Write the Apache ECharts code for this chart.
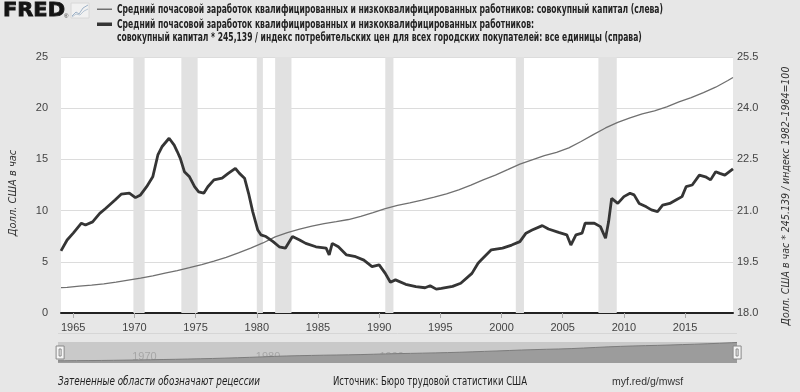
<!DOCTYPE html>
<html><head><meta charset="utf-8">
<script src="https://cdn.jsdelivr.net/npm/echarts@6/dist/echarts.min.js"></script>
<style>html,body{margin:0;padding:0;background:#e7e7e7;}#c{width:800px;height:392px;}</style>
</head><body><div id="c"></div>
<script>
// ---- data ----
const nominalDates = ['1964-01','1964-07','1965-07','1966-07','1967-07','1968-07','1969-07','1970-07','1971-07','1972-07','1973-07','1974-07','1975-07','1976-07','1977-07','1978-07','1979-07','1980-07','1981-07','1982-07','1983-07','1984-07','1985-07','1986-07','1987-07','1988-07','1989-07','1990-07','1991-07','1992-07','1993-07','1994-07','1995-07','1996-07','1997-07','1998-07','1999-07','2000-07','2001-07','2002-07','2003-07','2004-07','2005-07','2006-07','2007-07','2008-07','2009-07','2010-07','2011-07','2012-07','2013-07','2014-07','2015-07','2016-07','2017-07','2018-07','2018-12'];
const nominalValues = [2.47,2.50,2.63,2.73,2.85,3.02,3.22,3.40,3.63,3.90,4.14,4.43,4.73,5.06,5.44,5.87,6.33,6.84,7.43,7.86,8.19,8.48,8.73,8.92,9.13,9.43,9.80,10.19,10.50,10.76,11.03,11.32,11.64,12.03,12.49,13.00,13.47,14.00,14.54,14.96,15.36,15.68,16.12,16.75,17.42,18.07,18.61,19.05,19.44,19.74,20.13,20.61,21.03,21.53,22.05,22.70,23.00];

const realDates = ['1964-01','1964-07','1965-01','1965-09','1966-01','1966-08','1967-03','1967-09','1968-06','1968-12','1969-08','1970-02','1970-07','1971-01','1971-07','1971-12','1972-04','1972-11','1973-04','1973-07','1973-10','1974-02','1974-07','1974-12','1975-04','1975-09','1976-01','1976-07','1977-03','1977-09','1978-04','1978-08','1979-01','1979-05','1979-09','1980-02','1980-05','1980-10','1981-05','1981-11','1982-05','1982-12','1983-07','1984-01','1984-11','1985-09','1985-12','1986-03','1986-09','1987-05','1988-02','1988-10','1989-06','1990-01','1990-07','1990-12','1991-05','1992-03','1993-01','1993-10','1994-03','1994-09','1995-02','1996-01','1996-09','1997-08','1998-02','1998-05','1999-03','2000-02','2000-11','2001-07','2002-01','2002-07','2003-05','2003-11','2004-09','2005-05','2005-09','2006-02','2006-08','2006-11','2007-08','2008-02','2008-07','2008-10','2009-01','2009-07','2010-01','2010-07','2010-11','2011-04','2011-11','2012-04','2012-10','2013-03','2013-10','2014-04','2014-10','2015-02','2015-08','2016-03','2016-09','2017-02','2017-07','2017-11','2018-04','2018-12'];
const realValues = [19.82,20.14,20.34,20.63,20.58,20.67,20.92,21.07,21.31,21.48,21.51,21.38,21.46,21.70,21.99,22.63,22.87,23.12,22.92,22.73,22.53,22.14,21.99,21.70,21.55,21.51,21.70,21.90,21.95,22.09,22.24,22.09,21.95,21.50,20.97,20.43,20.29,20.24,20.09,19.94,19.90,20.24,20.14,20.04,19.94,19.90,19.70,20.04,19.94,19.70,19.65,19.55,19.36,19.41,19.16,18.90,18.97,18.84,18.77,18.74,18.80,18.70,18.72,18.78,18.87,19.16,19.46,19.55,19.85,19.90,19.99,20.09,20.34,20.43,20.56,20.46,20.36,20.29,19.99,20.29,20.34,20.63,20.63,20.53,20.19,20.67,21.36,21.21,21.41,21.51,21.46,21.21,21.11,21.02,20.97,21.16,21.21,21.31,21.41,21.70,21.75,22.04,21.99,21.90,22.14,22.09,22.04,22.22];

const recessionStarts = ['1969-12','1973-11','1980-01','1981-07','1990-07','2001-03','2007-12'];
const recessionEnds   = ['1970-11','1975-03','1980-07','1982-11','1991-03','2001-11','2009-06'];

const xTickYears = [1965,1970,1975,1980,1985,1990,1995,2000,2005,2010,2015];
const navTickYears = [1970,1980,1990,2000,2010];

const seriesLeftName = 'Средний почасовой заработок квалифицированных и низкоквалифицированных работников: совокупный капитал (слева)';
const seriesRightLine1 = 'Средний почасовой заработок квалифицированных и низкоквалифицированных работников:';
const seriesRightLine2 = 'совокупный капитал * 245,139 / индекс потребительских цен для всех городских покупателей: все единицы (справа)';
const leftAxisName = 'Долл. США в час';
const rightAxisName = 'Долл. США в час * 245.139 / индекс 1982–1984=100';
const footNote = 'Затененные области обозначают рецессии';
const footSource = 'Источник: Бюро трудовой статистики США';
const footLink = 'myf.red/g/mwsf';

// ---- helpers ----
const NARROW = '"Liberation Sans Narrow","DejaVu Sans Condensed","Liberation Sans",sans-serif';
const yr = s => { const p = s.split('-'); return +p[0] + (+p[1] - 1) / 12; };
const xMin = yr('1964-01'), xMax = yr('2018-12');
const zip = (a, b) => a.map((d, i) => [yr(d), b[i]]);
const yearFmt = v => String(Math.round(v));
const mctx = document.createElement('canvas').getContext('2d');
function fitScale(text, style, target) {
  mctx.font = (style.fontStyle || 'normal') + ' ' + (style.fontWeight || 'normal') + ' ' + style.fontSize + 'px ' + style.fontFamily;
  return target / mctx.measureText(text).width;
}
const legendFont = {fontFamily: NARROW, fontSize: 12, fontWeight: 'bold'};
const legendScale = fitScale(seriesLeftName, legendFont, 546);
const noteFont = {fontFamily: NARROW, fontSize: 12, fontStyle: 'italic'};
const srcFont = {fontFamily: NARROW, fontSize: 12};
function txt(x, y, text, font, scale, fill) {
  return {type: 'text', x: x, y: y, scaleX: scale,
          style: Object.assign({text: text, fill: fill || '#222', verticalAlign: 'middle', align: 'left'}, font)};
}

const chart = echarts.init(document.getElementById('c'), null, {renderer: 'canvas'});
const option = {
  backgroundColor: '#e7e7e7',
  animation: false,
  textStyle: {fontFamily: '"Liberation Sans",Arial,sans-serif'},
  grid: [
    {left: 58, right: 63, top: 57, bottom: 79, show: true, backgroundColor: '#ffffff', borderWidth: 0},
    {left: 58, right: 63, top: 342, height: 21, show: true, backgroundColor: '#c9c9c9', borderWidth: 0}
  ],
  xAxis: [
    {type: 'value', gridIndex: 0, min: xMin, max: xMax,
     axisLine: {show: true, onZero: false, lineStyle: {color: '#222', width: 2}},
     axisTick: {show: true, customValues: xTickYears, length: 5, lineStyle: {color: '#aaa'}},
     axisLabel: {customValues: xTickYears, formatter: yearFmt, color: '#444', fontSize: 11, margin: 9},
     splitLine: {show: false}},
    {type: 'value', gridIndex: 1, min: xMin, max: xMax,
     axisLine: {show: false}, axisTick: {show: false}, splitLine: {show: false},
     axisLabel: {inside: true, customValues: navTickYears, formatter: yearFmt, color: '#a6a6a6', fontSize: 11, align: 'left', margin: 1}}
  ],
  yAxis: [
    {type: 'value', gridIndex: 0, min: 0, max: 25, interval: 5, position: 'left',
     name: leftAxisName, nameLocation: 'middle', nameGap: 42, nameRotate: 90,
     nameTextStyle: {fontFamily: NARROW, fontStyle: 'italic', fontSize: 11, color: '#333', padding: [0, 16, 0, 0]},
     axisLine: {show: false}, axisTick: {show: false},
     axisLabel: {color: '#444', fontSize: 11, margin: 13},
     splitLine: {show: true, lineStyle: {color: '#dcdcdc', width: 1}}},
    {type: 'value', gridIndex: 0, min: 18, max: 25.5, interval: 1.5, position: 'right',
     name: rightAxisName, nameLocation: 'middle', nameGap: 48, nameRotate: 90,
     nameTextStyle: {fontFamily: NARROW, fontStyle: 'italic', fontSize: 10.5, color: '#333', padding: [0, 22, 0, 0]},
     axisLine: {show: false}, axisTick: {show: false},
     axisLabel: {color: '#444', fontSize: 11, margin: 4, formatter: v => v.toFixed(1)},
     splitLine: {show: false}},
    {type: 'value', gridIndex: 1, min: 0, max: 23.5, show: false}
  ],
  dataZoom: [
    {type: 'slider', xAxisIndex: [0], filterMode: 'none', start: 0, end: 100,
     left: 58, right: 63, top: 342, height: 21,
     showDataShadow: false, showDetail: false, brushSelect: false, moveHandleSize: 0,
     backgroundColor: 'rgba(0,0,0,0)', borderColor: 'rgba(0,0,0,0)', fillerColor: 'rgba(0,0,0,0)',
     handleIcon: 'path://M0,0 L8,0 L8,13 L0,13 Z M3,3 L5,3 L5,10 L3,10 Z',
     handleSize: '62%', handleStyle: {color: '#f4f4f4', borderColor: '#888', borderWidth: 1}}
  ],
  series: [
    {name: seriesLeftName, type: 'line', xAxisIndex: 0, yAxisIndex: 0, data: zip(nominalDates, nominalValues),
     showSymbol: false, symbol: 'none', lineStyle: {color: '#707070', width: 1.3}, itemStyle: {color: '#707070'}, z: 3,
     markArea: {silent: true, itemStyle: {color: '#e1e1e1'},
       data: recessionStarts.map((s, i) => [{xAxis: yr(s)}, {xAxis: yr(recessionEnds[i])}])}},
    {name: seriesRightLine1 + '\n' + seriesRightLine2, type: 'line', xAxisIndex: 0, yAxisIndex: 1, data: zip(realDates, realValues),
     showSymbol: false, symbol: 'none', lineStyle: {color: '#353535', width: 2.8}, itemStyle: {color: '#353535'}, z: 4},
    {name: 'nav', type: 'line', xAxisIndex: 1, yAxisIndex: 2, data: zip(nominalDates, nominalValues), silent: true,
     showSymbol: false, symbol: 'none', lineStyle: {color: '#7c7c7c', width: 1}, areaStyle: {color: '#9c9c9c', opacity: 1}, z: 1}
  ],
  graphic: [
    // FRED logo
    {type: 'text', x: 3, y: 2, scaleX: 1.1, style: {text: 'FRED', fontFamily: '"DejaVu Sans"', fontSize: 19, fontWeight: 'bold', fill: '#141414', stroke: '#141414', lineWidth: 0.8}},
    {type: 'text', x: 64, y: 13, style: {text: '®', fontSize: 6, fill: '#333'}},
    {type: 'rect', shape: {x: 71, y: 3, width: 18, height: 15}, style: {fill: '#f1f1f1', stroke: '#d8d8d8', lineWidth: 1}},
    {type: 'polyline', shape: {points: [[72, 16], [76, 12], [79, 14], [83, 8], [88, 5]]}, style: {stroke: '#9fb3c8', lineWidth: 1, fill: null}},
    {type: 'polyline', shape: {points: [[72, 17], [76, 14], [80, 15], [84, 11], [88, 9]]}, style: {stroke: '#b8c6d4', lineWidth: 1, fill: null}},
    // legend
    {type: 'rect', shape: {x: 97, y: 8.5, width: 15, height: 1.5}, style: {fill: '#707070'}},
    {type: 'rect', shape: {x: 97, y: 22.5, width: 15, height: 3.5}, style: {fill: '#353535'}},
    txt(117, 9.5, seriesLeftName, legendFont, legendScale),
    txt(117, 24.5, seriesRightLine1, legendFont, legendScale),
    txt(117, 38, seriesRightLine2, legendFont, legendScale),
    // navigator top rule
    {type: 'line', shape: {x1: 58, y1: 333.5, x2: 737, y2: 333.5}, style: {stroke: '#d6d6d6', lineWidth: 1}},
    // footer
    txt(58, 382, footNote, noteFont, fitScale(footNote, noteFont, 202)),
    txt(333, 382, footSource, srcFont, fitScale(footSource, srcFont, 194)),
    {type: 'text', x: 612, y: 382, style: {text: footLink, fontFamily: '"Liberation Sans",Arial,sans-serif', fontSize: 10.5, fill: '#333', verticalAlign: 'middle'}}
  ]
};
chart.setOption(option);
</script>
</body></html>
